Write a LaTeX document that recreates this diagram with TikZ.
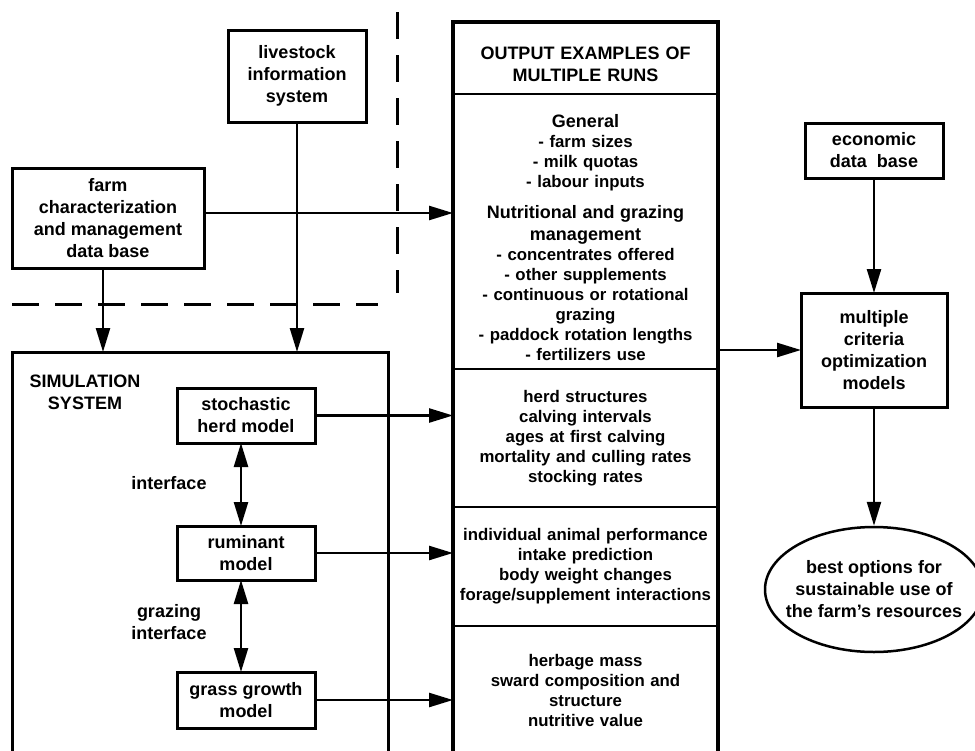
\documentclass[tikz,border=0pt]{standalone}
\usepackage{fontspec}
\setmainfont{Liberation Sans}
\usetikzlibrary{positioning,arrows.meta,shapes.geometric}
\tikzset{
  box/.style={draw,line width=3pt,inner sep=0pt,outer sep=0pt,align=center,font=\bfseries\fontsize{18}{22}\selectfont},
  sec/.style={draw,line width=2pt,inner sep=0pt,outer sep=0pt,minimum width=265pt,text width=260pt,align=center,font=\bfseries\fontsize{16.8}{20}\selectfont},
  lbl/.style={align=center,font=\bfseries\fontsize{18}{22}\selectfont},
  link/.style={->,line width=2.5pt},
  sepline/.style={line width=3pt,dash pattern=on 27pt off 16pt},
  >={Triangle[length=24pt,width=14pt]}
}

\begin{document}
\begin{tikzpicture}[x=1pt,y=-1pt]
\useasboundingbox (0,0) rectangle (975,750);
\clip (0,0) rectangle (975,750);
% input data
\node[box,minimum width=138pt,minimum height=92pt] (live) at (297,76) {livestock\\information\\system};
\node[box,minimum width=192pt,minimum height=100pt] (farm) at (108,218) {farm\\characterization\\and management\\data base};
\draw[sepline] (397,12) -- (397,293);
\draw[sepline] (12,304) -- (378,304);
% simulation system
\node[box,minimum width=376pt,minimum height=404pt,anchor=north west] (sim) at (12,352) {};
\node[lbl] (simlbl) at (85,392) {SIMULATION\\SYSTEM};
\node[box,minimum width=138pt,minimum height=55pt] (stoch) at (246,415.5) {stochastic\\herd model};
\node[box,minimum width=138pt,minimum height=54pt] (rum) at (246,553) {ruminant\\model};
\node[box,minimum width=138pt,minimum height=56pt] (grass) at (246,700) {grass growth\\model};
\node[lbl] (iface) at (169,483) {interface};
\node[lbl] (graziface) at (169,622) {grazing\\interface};
% outputs
\node[sec,minimum height=72pt,font=\bfseries\fontsize{18}{22}\selectfont] (title) at (585.5,58) {\rule{0pt}{25pt}OUTPUT EXAMPLES OF\\MULTIPLE RUNS};
\node[sec,minimum height=275pt,below=0pt of title] (general) {{\fontsize{18}{22}\selectfont\rule{0pt}{25pt}General\par}
- farm sizes\\- milk quotas\\- labour inputs\par\vspace{9pt}
{\fontsize{18}{22}\selectfont Nutritional and grazing\\management\par}
- concentrates offered\\- other supplements\\- continuous or rotational\\grazing\\- paddock rotation lengths\\- fertilizers use};
\node[sec,minimum height=138pt,below=0pt of general] (herd) {herd structures\\calving intervals\\ages at first calving\\mortality and culling rates\\stocking rates};
\node[sec,minimum height=119pt,below=0pt of herd] (perf) {individual animal performance\\intake prediction\\body weight changes\\forage/supplement interactions};
\node[sec,minimum height=128pt,below=0pt of perf] (sward) {herbage mass\\sward composition and\\structure\\nutritive value};
\draw[line width=3.5pt] (title.north west) rectangle (sward.south east);
% decision side
\node[box,minimum width=138pt,minimum height=55pt] (econ) at (874,150.5) {economic\\data~ base};
\node[box,minimum width=146pt,minimum height=114pt] (multi) at (874,350) {multiple\\criteria\\optimization\\models};
\node[draw,ellipse,line width=2.5pt,minimum width=218pt,minimum height=125pt,inner sep=0pt] (best) at (874,589.5) {};
\node[lbl] (besttxt) at (best) {best options for\\sustainable use of\\the farm’s resources};
% connections
\draw[link] ([yshift=5pt]farm.east) -- ([yshift=5pt]farm.east -| general.west);
\draw[link] ([xshift=-5pt]farm.south) -- ([xshift=-5pt]farm.south |- sim.north);
\draw[link] (live.south) -- (live.south |- sim.north);
\draw[link] (stoch.east) -- (stoch.east -| herd.west);
\draw[link] (rum.east) -- (rum.east -| perf.west);
\draw[link] (grass.east) -- (grass.east -| sward.west);
\draw[link,<->] ([xshift=-5pt]stoch.south) -- ([xshift=-5pt]rum.north);
\draw[link,<->] ([xshift=-5pt]rum.south) -- ([xshift=-5pt]grass.north);
\draw[link] (general.east |- multi.west) -- (multi.west);
\draw[link] (econ) -- (multi);
\draw[link] (multi) -- (best);
\end{tikzpicture}
\end{document}
